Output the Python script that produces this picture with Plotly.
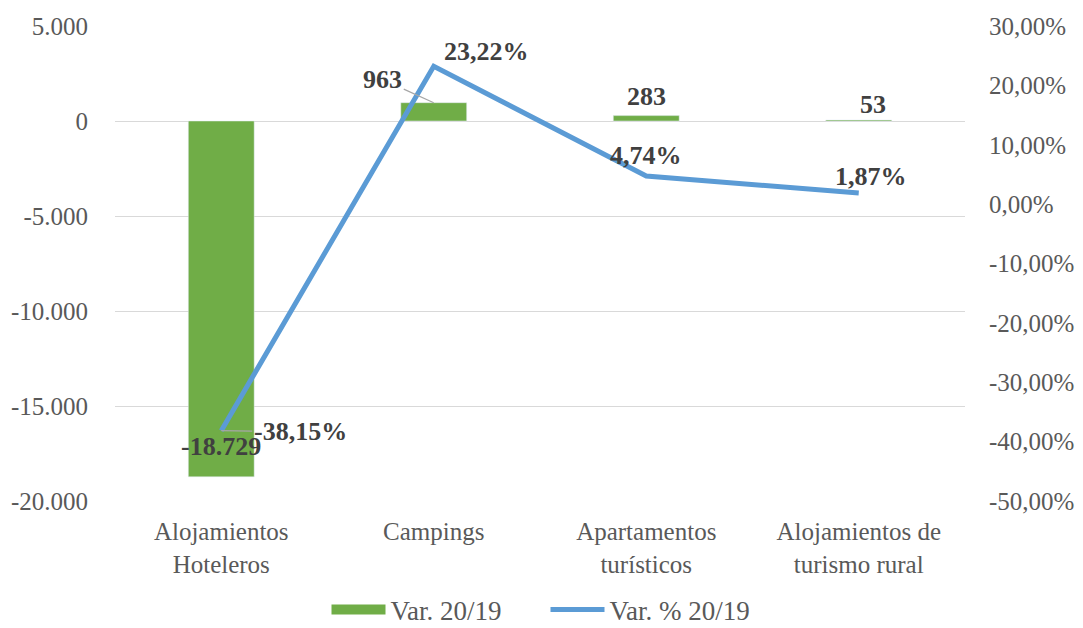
import plotly.graph_objects as go

categories = ["Alojamientos<br>Hoteleros", "Campings", "Apartamentos<br>turísticos", "Alojamientos de<br>turismo rural"]
var_abs = [-18729, 963, 283, 53]
var_pct = [-38.15, 23.22, 4.74, 1.87]
left_ticks = [-20000, -15000, -10000, -5000, 0, 5000]
left_ticktext = ["-20.000", "-15.000", "-10.000", "-5.000", "0", "5.000"]
right_ticks = [-50, -40, -30, -20, -10, 0, 10, 20, 30]
right_ticktext = ["-50,00%", "-40,00%", "-30,00%", "-20,00%", "-10,00%", "0,00%", "10,00%", "20,00%", "30,00%"]

FONT = "Liberation Serif"
GREEN = "#70AD47"
BLUE = "#5B9BD5"
TXT = "#595959"
LBL = "#404040"


def fmt_abs(v):
    s = f"{abs(v):,}".replace(",", ".")
    return ("-" if v < 0 else "") + s


def fmt_pct(v):
    return f"{v:.2f}".replace(".", ",") + "%"


fig = go.Figure()
fig.add_trace(go.Bar(x=categories, y=var_abs, name="Var. 20/19", marker_color=GREEN,
                     yaxis="y", showlegend=False))
fig.add_trace(go.Scatter(x=categories, y=var_pct, name="Var. % 20/19", mode="lines",
                         line=dict(color=BLUE, width=5), yaxis="y2", showlegend=False))
# legend-only entries (Excel-style keys)
fig.add_trace(go.Scatter(x=[None], y=[None], name="Var. 20/19", mode="lines",
                         line=dict(color=GREEN, width=14), showlegend=True))
fig.add_trace(go.Scatter(x=[None], y=[None], name="Var. % 20/19", mode="lines",
                         line=dict(color=BLUE, width=5), showlegend=True))

bar_offsets = [dict(xshift=0, yshift=30, arrow=None),
               dict(xshift=0, yshift=0, arrow=(-51, -23)),
               dict(xshift=0, yshift=19, arrow=None),
               dict(xshift=14, yshift=15, arrow=None)]
pct_offsets = [dict(xshift=0, yshift=0, arrow=(79, 1)),
               dict(xshift=53, yshift=15, arrow=None),
               dict(xshift=0, yshift=20, arrow=None),
               dict(xshift=12, yshift=17, arrow=None)]

annots = []
for i, c in enumerate(categories):
    for val, text, yref, o in [(var_abs[i], fmt_abs(var_abs[i]), "y", bar_offsets[i]),
                               (var_pct[i], fmt_pct(var_pct[i]), "y2", pct_offsets[i])]:
        a = dict(x=c, y=val, xref="x", yref=yref, text="<b>" + text + "</b>",
                 font=dict(family=FONT, size=26, color=LBL))
        if o["arrow"]:
            a.update(showarrow=True, ax=o["arrow"][0], ay=o["arrow"][1], arrowhead=0,
                     arrowwidth=1.2, arrowcolor="#A6A6A6", standoff=0, startstandoff=0)
        else:
            a.update(showarrow=False, xshift=o["xshift"], yshift=o["yshift"])
        annots.append(a)

# the page body adds an 8px offset, so the figure is sized to fit the window
fig.update_layout(
    width=1075, height=620,
    margin=dict(l=107, r=118, t=18, b=127),
    plot_bgcolor="white", paper_bgcolor="white",
    font=dict(family=FONT, size=25, color=TXT),
    bargap=0.69,
    showlegend=True,
    legend=dict(orientation="h", x=0.5, xanchor="center", xref="container",
                y=0.029, yanchor="middle", yref="container",
                font=dict(family=FONT, size=27, color=TXT), itemwidth=54,
                entrywidth=150, traceorder="normal"),
    xaxis=dict(showgrid=False, showline=False, ticks="", tickfont=dict(size=25, color=TXT),
               automargin=False, ticklabelstandoff=13),
    yaxis=dict(range=[-20000, 5000], tickvals=left_ticks, ticktext=left_ticktext,
               showgrid=True, gridcolor="#D9D9D9", gridwidth=1.3, zeroline=False,
               showline=False, ticks="", ticklabelstandoff=26, automargin=False),
    yaxis2=dict(range=[-50, 30], tickvals=right_ticks, ticktext=right_ticktext,
                overlaying="y", side="right", showgrid=False, zeroline=False,
                showline=False, ticks="", ticklabelstandoff=23, automargin=False),
    annotations=annots,
)

fig.write_html("out.html")
